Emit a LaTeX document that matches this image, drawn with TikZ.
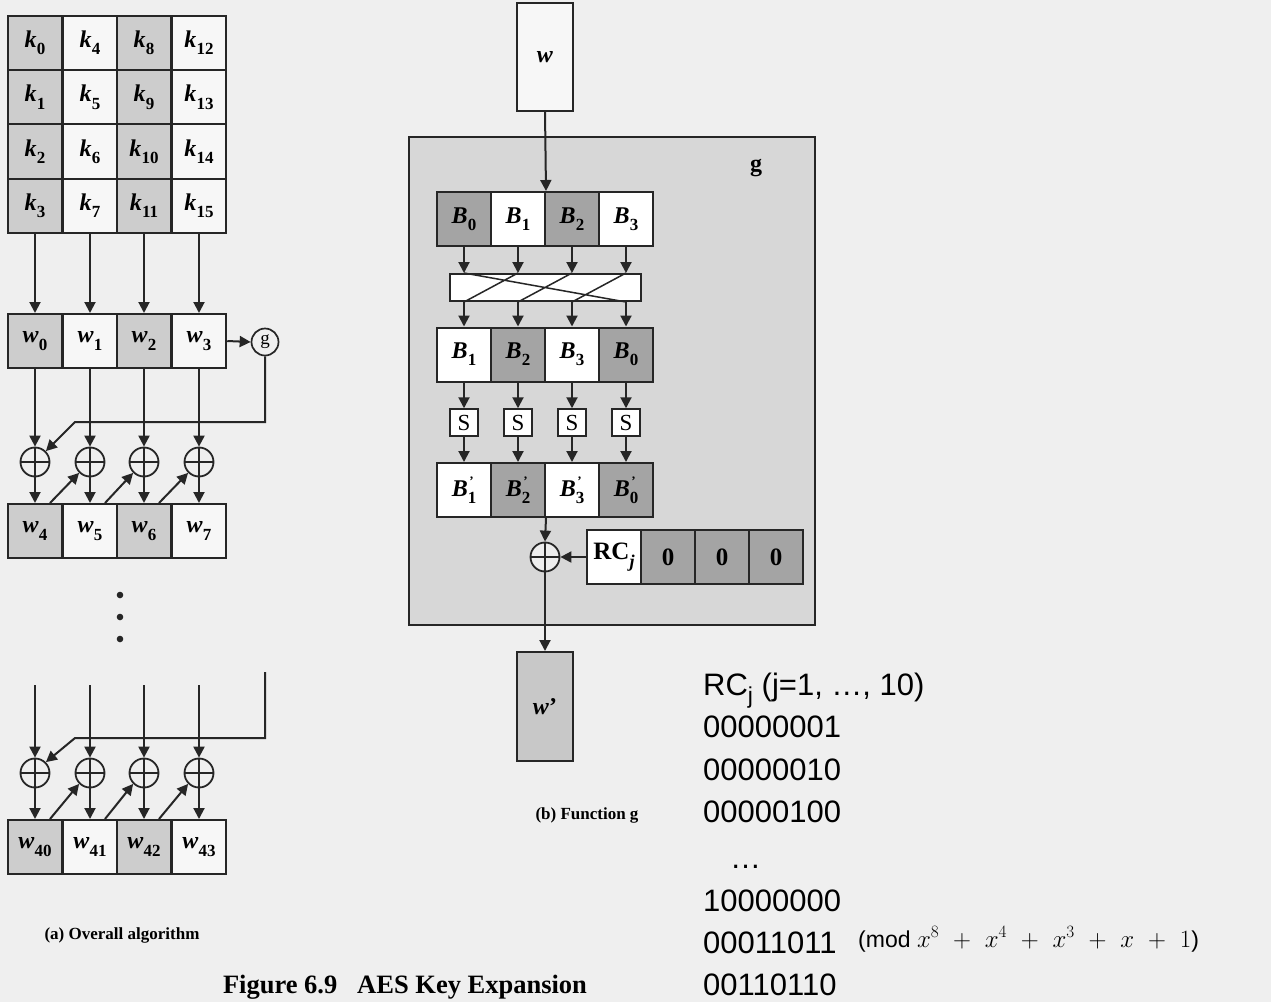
\documentclass[tikz,border=0pt]{standalone}
\usepackage{fontspec}
\setmainfont{Liberation Serif}
\newfontfamily\arialf{Liberation Sans}
\usetikzlibrary{arrows.meta}
\definecolor{bg}{HTML}{EFEFEF}
\definecolor{lgray}{HTML}{CDCDCD}
\definecolor{lwhite}{HTML}{F7F7F7}
\definecolor{dgray}{HTML}{A4A4A4}
\definecolor{gfill}{HTML}{D7D7D7}
\definecolor{wgray}{HTML}{C8C8C8}
\definecolor{ink}{HTML}{262626}
\newcommand\sublbl[2]{\textbf{\textit{#1}}\kern0.3pt\raisebox{-0.3em}{\fontsize{17}{17}\selectfont\textbf{#2}}}
\newcommand\bprime[1]{\textbf{\textit{B}}\rlap{\raisebox{0.45em}{\fontsize{13}{13}\selectfont\kern1.5pt\textbf{'}}}\raisebox{-0.3em}{\fontsize{17}{17}\selectfont\textbf{#1}}}
\begin{document}
\begin{tikzpicture}[x=1pt,y=-1pt,line join=miter,
  cell/.style={draw=ink,line width=2pt,minimum width=54.5pt,minimum height=54.3pt,inner sep=0pt,font=\fontsize{24}{24}\selectfont},
  bcell/.style={draw=ink,line width=2pt,minimum width=54pt,minimum height=54pt,inner sep=0pt,font=\fontsize{24}{24}\selectfont},
  arr/.style={draw=ink,line width=2pt,-{Triangle[length=11pt,width=11pt]}},
  crossl/.style={draw=ink,line width=1.5pt},
  xorc/.style={circle,draw=ink,line width=1.8pt,minimum size=29pt,inner sep=0pt,
    path picture={\draw[ink,line width=2pt] (path picture bounding box.north) -- (path picture bounding box.south)
      (path picture bounding box.west) -- (path picture bounding box.east);}},
  captxt/.style={font=\bfseries\fontsize{17}{17}\selectfont,inner sep=0pt},
  rct/.style={anchor=base west,inner sep=0pt,font=\arialf\fontsize{31}{31}\selectfont}]
\fill[bg] (0,0) rectangle (1271,1002);
\useasboundingbox (0,0) rectangle (1271,1002);
% key matrix
\foreach \c/\xc/\fc in {0/35/lgray,1/90/lwhite,2/144/lgray,3/199/lwhite}{
  \foreach \r in {0,...,3}{
    \pgfmathtruncatemacro\n{4*\c+\r}
    \node[cell,fill=\fc] (k\n) at (\xc,{43+54.25*\r}) {\sublbl{k}{\n}};
  }
}
% word rows
\foreach \c/\xc/\fc in {0/35/lgray,1/90/lwhite,2/144/lgray,3/199/lwhite}{
  \pgfmathtruncatemacro\a{\c}
  \pgfmathtruncatemacro\b{4+\c}
  \pgfmathtruncatemacro\d{40+\c}
  \node[cell,fill=\fc,minimum height=54pt] (w\a) at (\xc,341) {\sublbl{w}{\a}};
  \node[cell,fill=\fc,minimum height=54pt] (w\b) at (\xc,531) {\sublbl{w}{\b}};
  \node[cell,fill=\fc,minimum height=54pt] (w\d) at (\xc,847) {\sublbl{w}{\d}};
  \node[xorc] (x\a) at (\xc,462) {};
  \node[xorc] (y\a) at (\xc,773) {};
  \coordinate (t\a) at (\xc,685);
}
\foreach \c in {0,...,3}{
  \pgfmathtruncatemacro\kk{4*\c+3}
  \pgfmathtruncatemacro\b{4+\c}
  \pgfmathtruncatemacro\d{40+\c}
  \draw[arr] (k\kk.south) -- (w\c.north);
  \draw[arr] (w\c.south) -- (x\c.north);
  \draw[arr] (x\c.south) -- (w\b.north);
  \draw[arr] (t\c) -- (y\c.north);
  \draw[arr] (y\c.south) -- (w\d.north);
}
\foreach \c in {0,1,2}{
  \pgfmathtruncatemacro\b{4+\c}
  \pgfmathtruncatemacro\d{40+\c}
  \pgfmathtruncatemacro\e{\c+1}
  \draw[arr] ([xshift=15pt]w\b.north) -- (x\e.south west);
  \draw[arr] ([xshift=15pt]w\d.north) -- (y\e.south west);
}
\node[circle,draw=ink,line width=1.7pt,minimum size=27pt,inner sep=0pt,font=\fontsize{19}{19}\selectfont] (gc) at (265,342) {g};
\draw[arr] (w3.east) -- (gc.west);
\coordinate (g1) at (265,422);
\coordinate (g2) at (75,422);
\draw[arr] (gc.south) -- (g1) -- (g2) -- (x0.north east);
\coordinate (h0) at (265,672);
\coordinate (h1) at (265,738);
\coordinate (h2) at (75,738);
\draw[arr] (h0) -- (h1) -- (h2) -- (y0.north east);
\fill[ink] (120,595) circle (3.3pt);
\fill[ink] (120,617) circle (3.3pt);
\fill[ink] (120,639) circle (3.3pt);
\node[captxt] (capa) at (122,935) {(a) Overall algorithm};
% function g
\node[draw=ink,line width=2pt,fill=lwhite,minimum width=56pt,minimum height=108pt,inner sep=0pt,font=\fontsize{24}{24}\selectfont] (win) at (545,57) {\textbf{\textit{w}}};
\node[draw=ink,line width=2.4pt,fill=gfill,minimum width=406pt,minimum height=488pt,inner sep=0pt] (gbox) at (612,381) {};
\node[font=\bfseries\fontsize{24}{24}\selectfont,inner sep=0pt] (glab) at (756,168) {g};
\foreach \c/\fa/\la/\fb/\lb/\fp/\lp in {0/dgray/0/white/1/white/1,1/white/1/dgray/2/dgray/2,2/dgray/2/white/3/white/3,3/white/3/dgray/0/dgray/0}{
  \node[bcell,fill=\fa] (a\c) at ({464+54*\c},219) {\sublbl{B}{\la}};
  \node[bcell,fill=\fb] (b\c) at ({464+54*\c},354.5) {\sublbl{B}{\lb}};
  \node[bcell,fill=\fp] (p\c) at ({464+54*\c},490) {\bprime{\lp}};
  \node[draw=ink,line width=1.5pt,fill=white,minimum width=28pt,minimum height=27pt,inner sep=0pt,font=\fontsize{23}{23}\selectfont] (s\c) at ({464+54*\c},422.5) {S};
}
\draw[arr] (win.south) -- (a1.north east);
\node[draw=ink,line width=2pt,fill=white,minimum width=191pt,minimum height=27pt,inner sep=0pt] (perm) at (545.5,287.5) {};
\foreach \c in {0,...,3}{
  \coordinate (pt\c) at (a\c.south |- perm.north);
  \coordinate (pb\c) at (a\c.south |- perm.south);
  \draw[arr] (a\c.south) -- (pt\c);
  \draw[arr] (pb\c) -- (b\c.north);
  \draw[arr] (b\c.south) -- (s\c.north);
  \draw[arr] (s\c.south) -- (p\c.north);
}
\draw[crossl] (pt0) -- (pb3) (pt1) -- (pb0) (pt2) -- (pb1) (pt3) -- (pb2);
\node[xorc,fill=white!55!gfill] (gx) at (545,557) {};
\foreach \c/\fc/\lab in {0/white/{\textbf{RC}\raisebox{-0.3em}{\fontsize{18}{18}\selectfont\textbf{\textit{j}}}},1/dgray/\textbf{0},2/dgray/\textbf{0},3/dgray/\textbf{0}}{
  \node[bcell,fill=\fc,font=\fontsize{25}{25}\selectfont] (rc\c) at ({614+54*\c},557) {\lab};
}
\node[draw=ink,line width=2pt,fill=wgray,minimum width=56pt,minimum height=109pt,inner sep=0pt,font=\fontsize{24}{24}\selectfont] (wout) at (545,706.5) {\textbf{\textit{w}}\textbf{'}};
\draw[arr] (p1.south east) -- (gx.north);
\draw[arr] (rc0.west) -- (gx.east);
\draw[arr] (gx.south) -- (wout.north);
\node[captxt] (capb) at (587,815) {(b) Function g};
\node[font=\bfseries\fontsize{26.5}{26.5}\selectfont,inner sep=0pt] (fig) at (405,987) {Figure 6.9\hspace{0.75em}AES Key Expansion};
% RC list
\node[rct] (l0) at (703,695) {RC\raisebox{-0.28em}{\fontsize{23}{23}\selectfont j} (j=1, …, 10)};
\node[rct] (l1) at (703,737) {00000001};
\node[rct] (l2) at (703,780) {00000010};
\node[rct] (l3) at (703,822) {00000100};
\node[rct] (l4) at (730,868) {…};
\node[rct] (l5) at (703,911) {10000000};
\node[rct] (l6) at (703,953) {00011011};
\node[rct] (l7) at (703,995) {00110110};
\node[anchor=base west,inner sep=0pt,font=\arialf\fontsize{23}{23}\selectfont] (mod) at (858,947) {(mod $x^{8} \mskip6mu+\mskip6mu x^{4} \mskip6mu+\mskip6mu x^{3} \mskip6mu+\mskip6mu x \mskip6mu+\mskip6mu 1$)};
\end{tikzpicture}
\end{document}
